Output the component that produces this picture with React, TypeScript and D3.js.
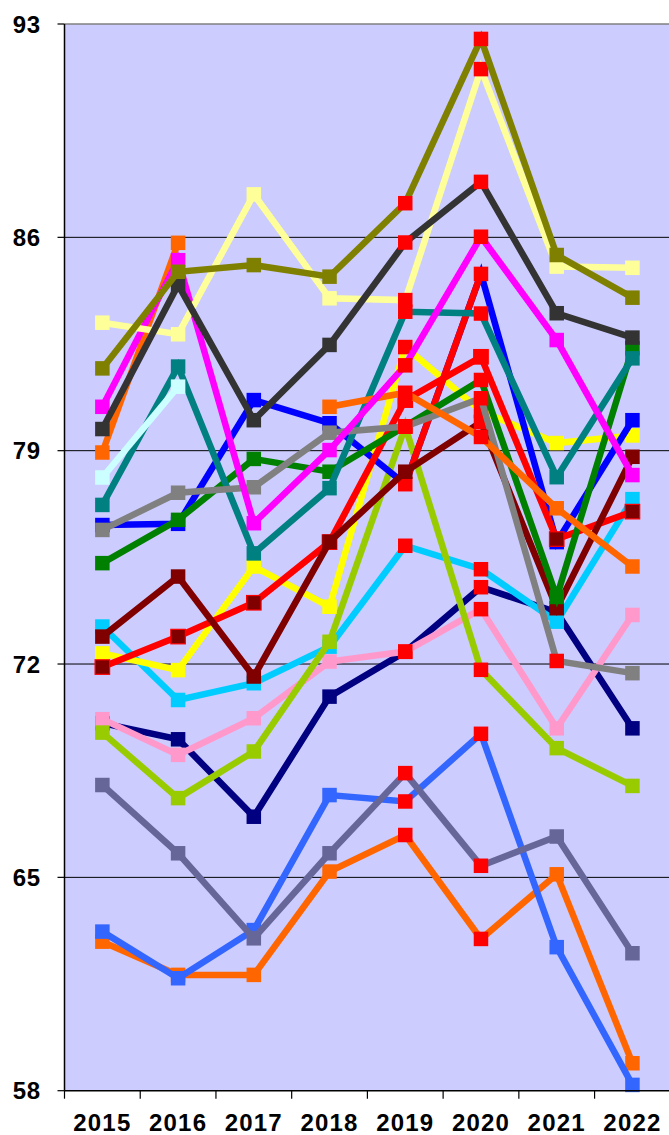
import React from 'react'
import * as d3 from 'd3'

const width = 669
const height = 1135
const margin = { top: 24, right: -1.3, bottom: 44.3, left: 64.5 }

const years = ['2015', '2016', '2017', '2018', '2019', '2020', '2021', '2022']
const yTicks = [58, 65, 72, 79, 86, 93]

// values per series (null = no value)
const olive = [81.7, 84.87, 85.09, 84.71, 87.12, 92.51, 85.42, 84.02]
const lightYellow = [83.2, 82.82, 87.41, 84.0, 83.94, 91.52, 85.04, 85.0]
const darkGray = [79.71, 84.44, 80.0, 82.47, 85.83, 87.82, 83.51, 82.71]
const magenta = [80.44, 85.25, 76.62, 79.02, 81.8, 86.02, 82.63, 78.2]
const orangeTop = [78.94, 85.82, null, 80.44, 80.9, 79.45, 77.11, 75.2]
const lightCyan = [78.12, 81.1, null, null, null, null, null, null]
const teal = [77.22, 81.76, 75.63, 77.77, 83.56, 83.5, 78.13, 82.03]
const blue = [76.56, 76.6, 80.66, 79.9, 77.9, 84.8, 76.0, 80.0]
const green = [75.31, 76.73, 78.73, 78.31, 79.8, 81.32, 74.2, 82.36]
const gray = [76.4, 77.62, 77.8, 79.59, 79.79, 80.72, 72.1, 71.7]
const yellow = [72.35, 71.8, 75.2, 73.88, 82.4, 80.3, 79.25, 79.5]
const red = [71.9, 72.9, 74.01, 76.0, 80.66, 82.08, 76.1, 77.0]
const maroon = [72.9, 74.87, 71.59, 76.01, 78.31, 79.94, 73.83, 78.8]
const skyBlue = [73.23, 70.82, 71.37, 72.57, 75.88, 75.11, 73.39, 77.41]
const navy = [70.06, 69.53, 66.99, 70.93, 72.4, 74.52, 73.7, 69.89]
const pink = [70.19, 69.02, 70.22, 72.08, 72.41, 73.8, 69.89, 73.61]
const yellowGreen = [69.75, 67.6, 69.13, 72.73, 79.79, 71.81, 69.24, 68.0]
const slate = [68.03, 65.79, 63.0, 65.79, 68.42, 65.38, 66.34, 62.51]
const royalBlue = [63.22, 61.69, 63.27, 67.7, 67.49, 69.71, 62.71, 58.19]
const orangeLow = [62.89, 61.8, 61.8, 65.19, 66.39, 62.98, 65.1, 58.9]

const HL = '#FF0000'

// drawing order: first is at the bottom
const series = [
  { values: orangeLow, color: '#FF6600', hl: [4, 5] },
  { values: royalBlue, color: '#3366FF', hl: [4, 5] },
  { values: slate, color: '#666699', hl: [4, 5] },
  { values: navy, color: '#000080', hl: [4, 5] },
  { values: pink, color: '#FF99CC', hl: [4, 5] },
  { values: skyBlue, color: '#00CCFF', hl: [4, 5] },
  { values: yellowGreen, color: '#99CC00', hl: [4, 5] },
  { values: yellow, color: '#FFFF00', hl: [4, 5] },
  { values: blue, color: '#0000FF', hl: [4, 5], redSeg: [5] },
  { values: red, color: '#FF0000', marker: '#800000', hl: [4, 5] },
  { values: maroon, color: '#800000', hl: [5] },
  { values: green, color: '#008000', hl: [4, 5] },
  { values: teal, color: '#008080', hl: [4, 5] },
  { values: gray, color: '#808080', hl: [4, 5, 6] },
  { values: lightCyan, color: '#CCFFFF', hl: [] },
  { values: orangeTop, color: '#FF6600', hl: [4, 5] },
  { values: magenta, color: '#FF00FF', hl: [4, 5] },
  { values: lightYellow, color: '#FFFF99', hl: [4, 5] },
  { values: darkGray, color: '#333333', hl: [4, 5] },
  { values: olive, color: '#808000', hl: [4, 5] },
]

const x = d3.scaleBand().domain(years).range([margin.left, width - margin.right])
const y = d3.scaleLinear().domain([58, 93]).range([height - margin.bottom, margin.top])
const cx = (i: number) => (x(years[i]) as number) + x.bandwidth() / 2

const line = d3
  .line<number | null>()
  .defined(d => d !== null)
  .x((d, i) => cx(i))
  .y(d => y(d as number))

const App = () => {
  const left = margin.left
  const right = width - margin.right
  const top = margin.top
  const bottom = height - margin.bottom
  const ms = 14.5

  return (
    <svg
      width={width}
      height={height}
      style={{ position: 'absolute', left: 0, top: 0 }}
      fontFamily="'Liberation Sans', Arial, sans-serif"
    >
      <rect x={left} y={top} width={right - left} height={bottom - top} fill="#CCCCFF" />
      <line x1={left} x2={right} y1={top} y2={top} stroke="#808080" strokeWidth={1.5} />
      {yTicks.slice(1, -1).map(t => (
        <line key={t} x1={left} x2={right} y1={y(t)} y2={y(t)} stroke="#000" strokeWidth={1} />
      ))}

      {series.map((s, si) => (
        <g key={si}>
          <path
            d={line(s.values) || ''}
            fill="none"
            stroke={s.color}
            strokeWidth={6.5}
            strokeLinejoin="miter"
          />
          {(s.redSeg || []).map(i => (
            <line
              key={'seg' + i}
              x1={cx(i - 1)}
              y1={y(s.values[i - 1] as number)}
              x2={cx(i)}
              y2={y(s.values[i] as number)}
              stroke={HL}
              strokeWidth={6.5}
            />
          ))}
          {s.values.map((v, i) =>
            v === null ? null : (
              <rect
                key={i}
                x={cx(i) - ms / 2}
                y={y(v) - ms / 2}
                width={ms}
                height={ms}
                fill={s.hl.includes(i) ? HL : s.marker || s.color}
                stroke={s.marker ? HL : 'none'}
                strokeWidth={s.marker ? 1.2 : 0}
              />
            )
          )}
        </g>
      ))}

      {/* axes */}
      <line x1={left} x2={left} y1={top} y2={bottom} stroke="#000" strokeWidth={1.5} />
      <line x1={left} x2={right} y1={bottom} y2={bottom} stroke="#000" strokeWidth={1.5} />
      {yTicks.map(t => (
        <g key={t}>
          <line x1={left - 7} x2={left} y1={y(t)} y2={y(t)} stroke="#000" strokeWidth={1.2} />
          <text
            x={41}
            y={y(t)}
            dy="0.36em"
            textAnchor="end"
            fontSize={24}
            fontWeight="bold"
            letterSpacing={0.8}
          >
            {t}
          </text>
        </g>
      ))}
      {years.map(yr => (
        <g key={yr}>
          <line
            x1={x(yr) as number}
            x2={x(yr) as number}
            y1={bottom}
            y2={bottom + 8}
            stroke="#000"
            strokeWidth={1.2}
          />
          <text
            x={(x(yr) as number) + x.bandwidth() / 2}
            y={1131}
            textAnchor="middle"
            fontSize={24}
            fontWeight="bold"
            letterSpacing={1.2}
          >
            {yr}
          </text>
        </g>
      ))}
    </svg>
  )
}

export default App
